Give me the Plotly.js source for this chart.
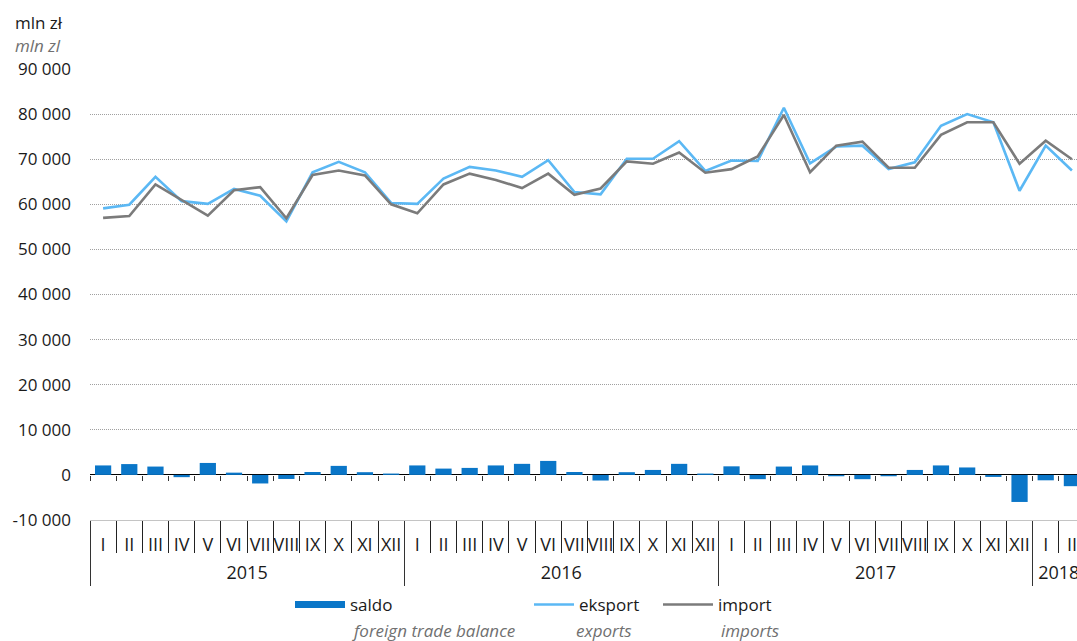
<!DOCTYPE html>
<html><head><meta charset="utf-8">
<script src="https://cdn.plot.ly/plotly-3.0.1.min.js"></script>
<style>html,body{margin:0;padding:0;overflow:hidden;background:#fff}#chart{width:1085px;height:641px}</style>
</head><body><div id="chart"></div>
<script>
const years = ['2015', '2016', '2017', '2018'];
const monthsPerYear = [12, 12, 12, 2];
const romanMonths = ['I','II','III','IV','V','VI','VII','VIII','IX','X','XI','XII'];

const eksport = [
  59100, 59900, 66100, 60700, 60100, 63400, 61900, 56200, 67100, 69400, 67100, 60300,
  60100, 65700, 68300, 67500, 66100, 69800, 62700, 62200, 70100, 70100, 74000, 67400,
  69700, 69600, 81400, 69100, 72800, 73000, 67800, 69300, 77400, 80000, 78200, 63000,
  73000, 67500
];
const importVals = [
  57000, 57400, 64400, 61000, 57500, 63100, 63800, 56900, 66500, 67500, 66400, 60000,
  58000, 64400, 66800, 65400, 63600, 66800, 62100, 63500, 69500, 69000, 71500, 67000,
  67800, 70600, 79800, 67100, 73000, 73900, 68100, 68100, 75400, 78200, 78200, 69000,
  74100, 70000
];
const saldo = [
  2100, 2400, 1850, -500, 2650, 500, -1900, -900, 650, 2000, 600, 300,
  2100, 1400, 1550, 2100, 2450, 3100, 650, -1250, 600, 1100, 2450, 300,
  1900, -950, 1850, 2100, -300, -950, -300, 1100, 2100, 1650, -450, -6000,
  -1200, -2500
];
const yTickVals = [-10000, 0, 10000, 20000, 30000, 40000, 50000, 60000, 70000, 80000, 90000];
const yTickText = ['-10 000', '0', '10 000', '20 000', '30 000', '40 000', '50 000', '60 000', '70 000', '80 000', '90 000'];
const unitLabel = 'mln zł';
const unitLabelEn = 'mln zl';
const names = {saldo: 'saldo', eksport: 'eksport', import: 'import'};
const namesEn = {saldo: 'foreign trade balance', eksport: 'exports', import: 'imports'};

// month labels per point, year-group centres
const xMonth = [];
const yearCenters = [];
let start = 0;
years.forEach((y, i) => {
  for (let m = 0; m < monthsPerYear[i]; m++) xMonth.push(romanMonths[m]);
  yearCenters.push(start + (monthsPerYear[i] - 1) / 2);
  start += monthsPerYear[i];
});
const idx = saldo.map((_, i) => i);
const xRange = [-0.5, idx.length - 0.5];

const C_BAR = '#0a76c8', C_EXP = '#5bb8f4', C_IMP = '#7b7b7b';

const traces = [
  {type: 'bar', x: idx, y: saldo, marker: {color: C_BAR}, showlegend: false, hoverinfo: 'y'},
  {type: 'scatter', mode: 'lines', x: idx, y: eksport, name: names.eksport,
   line: {color: C_EXP, width: 2.6}, legend: 'legend2'},
  {type: 'scatter', mode: 'lines', x: idx, y: importVals, name: names.import,
   line: {color: C_IMP, width: 2.6}, legend: 'legend3'},
  {type: 'scatter', mode: 'lines', x: idx, y: saldo.map(() => null), name: names.saldo,
   line: {color: C_BAR, width: 7}, legend: 'legend', hoverinfo: 'skip'},
  {type: 'scatter', mode: 'none', x: idx, y: saldo, xaxis: 'x2', showlegend: false, hoverinfo: 'skip'},
  {type: 'scatter', mode: 'none', x: idx, y: saldo, xaxis: 'x3', showlegend: false, hoverinfo: 'skip'}
];

const W = 1085, L = 90, T = 69, B = 119, H = 641;
const plotW = W - L, plotH = H - T - B;
const px2x = p => (p - L) / plotW;
const px2y = p => (T + plotH - p) / plotH;

// y range: top at 90 000, bottom 2 px below the -10 000 grid line
const yMax = yTickVals[yTickVals.length - 1];
const pxPerUnit = (plotH - 2) / (yMax - yTickVals[0]);
const yMin = yTickVals[0] - 2 / pxPerUnit;
const fracOf = v => (v - yMin) / (yMax - yMin);
const axisPos = fracOf(yTickVals[0]);

const GRID = '#a0a0a0', GRID_DASH = '1px,1px';

const legendBase = {orientation: 'h', xanchor: 'left', yanchor: 'middle', bgcolor: 'rgba(0,0,0,0)',
  borderwidth: 0, font: {size: 17, color: '#1a1a1a'}, tracegroupgap: 0};

const layout = {
  width: W, height: H,
  margin: {l: L, r: 0, t: T, b: B, pad: 0},
  paper_bgcolor: '#fff', plot_bgcolor: '#fff',
  font: {family: 'Open Sans, sans-serif', size: 17, color: '#1a1a1a'},
  bargap: 0.38,
  showlegend: true,
  // month labels + month separators (minor ticks at boundaries); light line at -10 000
  xaxis: {type: 'linear', range: xRange, anchor: 'free', position: axisPos,
    tickmode: 'array', tickvals: idx, ticktext: xMonth,
    ticks: '', ticklabelstandoff: 8, tickangle: 0,
    minor: {tickmode: 'linear', tick0: -0.5, dtick: 1, ticks: 'outside', ticklen: 32,
      tickcolor: '#222', tickwidth: 1, showgrid: false},
    showgrid: false, zeroline: false, showline: true, linecolor: '#c4c4c4', linewidth: 1,
    tickfont: {size: 18, color: '#1a1a1a'}, automargin: false, fixedrange: true},
  // small ticks on the zero line
  xaxis2: {overlaying: 'x', anchor: 'free', position: fracOf(0), type: 'linear', range: xRange,
    tickmode: 'linear', tick0: -0.5, dtick: 1, ticks: 'outside', ticklen: 5, tickcolor: '#333',
    tickwidth: 1, showticklabels: false, showgrid: false, zeroline: false, showline: false, fixedrange: true},
  // year labels + year dividers
  xaxis3: {overlaying: 'x', anchor: 'free', position: axisPos, side: 'bottom',
    type: 'linear', range: xRange,
    tickmode: 'array', tickvals: yearCenters, ticktext: years, ticks: '', ticklabelstandoff: 40,
    tickangle: 0,
    minor: {tickmode: 'linear', tick0: -0.5, dtick: monthsPerYear[0], ticks: 'outside', ticklen: 65,
      tickcolor: '#333', tickwidth: 1, showgrid: false},
    showgrid: false, zeroline: false, showline: false,
    tickfont: {size: 18, color: '#1a1a1a'}, automargin: false, fixedrange: true},
  yaxis: {range: [yMin, yMax], tickmode: 'array', tickvals: yTickVals, ticktext: yTickText,
    showgrid: true, gridcolor: GRID, griddash: GRID_DASH, gridwidth: 1,
    zeroline: true, zerolinecolor: '#000', zerolinewidth: 1, ticks: '', showline: false,
    ticklabelstandoff: 18, tickfont: {size: 17, color: '#1a1a1a'}, automargin: false, fixedrange: true},
  legend: Object.assign({}, legendBase, {x: px2x(290), y: px2y(605), itemwidth: 50}),
  legend2: Object.assign({}, legendBase, {x: px2x(529), y: px2y(605), itemwidth: 40}),
  legend3: Object.assign({}, legendBase, {x: px2x(658), y: px2y(605), itemwidth: 50}),
  annotations: [
    {xref: 'paper', yref: 'paper', x: px2x(13), y: px2y(23), xanchor: 'left', yanchor: 'middle',
     text: unitLabel, showarrow: false, font: {size: 17, color: '#1a1a1a'}},
    {xref: 'paper', yref: 'paper', x: px2x(13), y: px2y(46), xanchor: 'left', yanchor: 'middle',
     text: '<i>' + unitLabelEn + '</i>', showarrow: false, font: {size: 17, color: '#707070'}},
    {xref: 'paper', yref: 'paper', x: px2x(350), y: px2y(630), xanchor: 'left', yanchor: 'middle',
     text: '<i>' + namesEn.saldo + '</i>', showarrow: false, font: {size: 17, color: '#707070'}},
    {xref: 'paper', yref: 'paper', x: px2x(574), y: px2y(630), xanchor: 'left', yanchor: 'middle',
     text: '<i>' + namesEn.eksport + '</i>', showarrow: false, font: {size: 17, color: '#707070'}},
    {xref: 'paper', yref: 'paper', x: px2x(719), y: px2y(630), xanchor: 'left', yanchor: 'middle',
     text: '<i>' + namesEn.import + '</i>', showarrow: false, font: {size: 17, color: '#707070'}}
  ]
};

Plotly.newPlot('chart', traces, layout, {displayModeBar: false, staticPlot: true});
</script>
</body></html>
